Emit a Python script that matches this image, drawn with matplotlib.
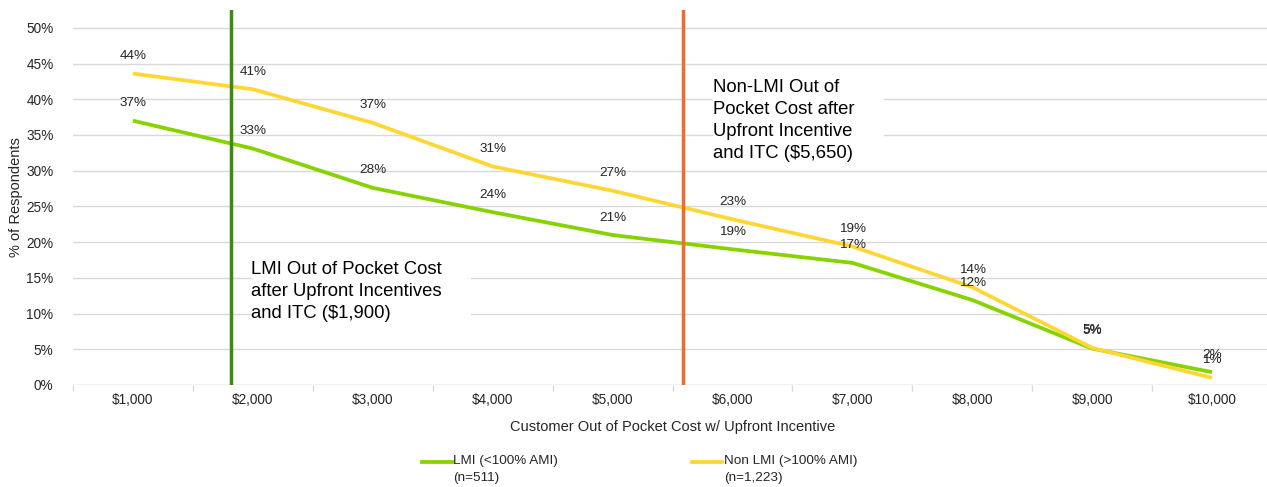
import matplotlib
matplotlib.use("Agg")
from matplotlib import pyplot as plt
from matplotlib.lines import Line2D
from matplotlib.patches import Rectangle

plt.rcParams['font.family'] = ['Liberation Sans', 'DejaVu Sans']

# survey results, % of respondents willing at each out-of-pocket cost
costs = ["$1,000", "$2,000", "$3,000", "$4,000", "$5,000",
         "$6,000", "$7,000", "$8,000", "$9,000", "$10,000"]
lmi = [37.0, 33.1, 27.6, 24.2, 21.0, 19.0, 17.1, 11.9, 5.1, 1.8]
non_lmi = [43.6, 41.4, 36.7, 30.6, 27.2, 23.2, 19.4, 13.7, 5.2, 1.0]

series_names = ["LMI (<100% AMI)\n(n=511)", "Non LMI (>100% AMI)\n(n=1,223)"]
yticks = [0, 5, 10, 15, 20, 25, 30, 35, 40, 45, 50]

GREEN = '#86D300'
YELLOW = '#FFD633'
GRID = '#D9D9D9'
TXT = '#262626'

W, H = 1267, 487
fig = plt.figure(figsize=(W / 100, H / 100), dpi=100)
ax = fig.add_axes([73 / W, 1 - 385 / H, 1199 / W, 375 / H])

x = list(range(len(costs)))
ax.plot(x, lmi, color=GREEN, lw=2.7, solid_capstyle='butt', solid_joinstyle='round', zorder=4)
ax.plot(x, non_lmi, color=YELLOW, lw=2.7, solid_capstyle='butt', solid_joinstyle='round', zorder=4)

# value labels above each point
for vals in (non_lmi, lmi):
    for i, v in enumerate(vals):
        ax.annotate(f"{v:.0f}%", (i, v), xytext=(0, 12.5), textcoords='offset points',
                    ha='center', va='center', fontsize=9.7, color=TXT, zorder=6)

# reference lines for the net costs after incentives
ax.axvline(0.82, color='#3F8A0C', lw=2.5, zorder=5)
ax.axvline(4.59, color='#F26A2E', lw=2.5, zorder=5)

# text boxes sit on a white patch that hides the grid behind them
ax.add_patch(Rectangle((0.99, 7.0), 1.83, 12.0, facecolor='white', edgecolor='none', zorder=2))
ax.text(0.985, 17.4, "LMI Out of Pocket Cost\nafter Upfront Incentives\nand ITC ($1,900)",
        fontsize=13.3, color='black', ha='left', va='top', linespacing=1.4, zorder=3)

ax.add_patch(Rectangle((4.84, 30.8), 1.42, 13.3, facecolor='white', edgecolor='none', zorder=2))
ax.text(4.84, 42.9, "Non-LMI Out of\nPocket Cost after\nUpfront Incentive\nand ITC ($5,650)",
        fontsize=13.3, color='black', ha='left', va='top', linespacing=1.4, zorder=3)

ax.set_xlim(-0.5, len(costs) - 0.5)
ax.set_ylim(0, 52.5)
ax.set_yticks(yticks)
ax.set_yticklabels([f"{t}%" for t in yticks])
ax.set_xticks(x)
ax.set_xticklabels(costs)
ax.set_xticks([i - 0.5 for i in range(len(costs) + 1)], minor=True)

for s in ax.spines.values():
    s.set_visible(False)
ax.grid(axis='y', color=GRID, lw=1.0, zorder=0)
ax.set_axisbelow(True)
ax.tick_params(axis='y', length=0, pad=14, labelsize=9.8, labelcolor=TXT)
ax.tick_params(axis='x', which='major', length=0, pad=6, labelsize=9.8, labelcolor=TXT)
ax.tick_params(axis='x', which='minor', length=4, color=GRID, width=1.0)
ax.axhline(0, color=GRID, lw=1.0, zorder=1)

fig.text(16 / W, 1 - 197 / H, "% of Respondents", rotation=90, ha='center', va='center',
         fontsize=10.5, color=TXT)
fig.text(673 / W, 1 - 427 / H, "Customer Out of Pocket Cost w/ Upfront Incentive",
         ha='center', va='center', fontsize=10.5, color=TXT)

# legend drawn by hand, two entries side by side
for (x0, x1, tx), color, name in zip([(422, 452, 453), (692, 722, 724)],
                                     [GREEN, YELLOW], series_names):
    fig.add_artist(Line2D([x0 / W, x1 / W], [1 - 462 / H, 1 - 462 / H],
                          color=color, lw=2.7, transform=fig.transFigure))
    fig.text(tx / W, 1 - 455 / H, name, ha='left', va='top', fontsize=9.7,
             color=TXT, linespacing=1.55)

fig.savefig("out.png", dpi=100)
